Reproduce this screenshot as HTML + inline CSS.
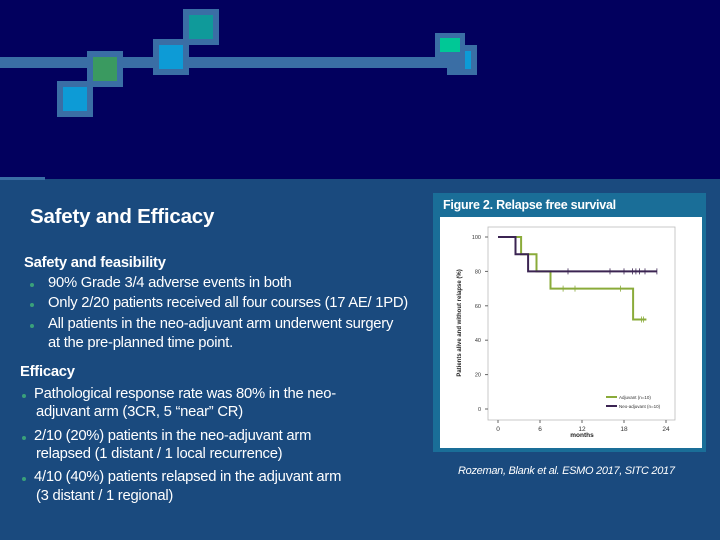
<!DOCTYPE html>
<html><head><meta charset="utf-8">
<style>
html,body{margin:0;padding:0}
body{width:720px;height:540px;position:relative;overflow:hidden;background:#1a4a7e;font-family:"Liberation Sans",sans-serif;color:#fff}
.top{position:absolute;left:0;top:0;width:720px;height:179px;background:#02005e}
.sq{position:absolute;box-sizing:border-box;border:6px solid #3a6ea5}
.t{position:absolute;white-space:nowrap;font-size:14.8px;letter-spacing:-0.25px}
.b{font-weight:bold}
.dot{position:absolute;width:4px;height:4px;border-radius:50%;background:#3aa07a}
</style></head><body>
<div class="top"></div>
<div style="position:absolute;left:0;top:57px;width:464px;height:11px;background:#3a6ea5"></div>
<div class="sq" style="left:57px;top:81px;width:36px;height:36px;background:#0d9bd6"></div>
<div class="sq" style="left:87px;top:51px;width:36px;height:36px;background:#3a9a60"></div>
<div class="sq" style="left:153px;top:39px;width:36px;height:36px;background:#0d9bd6"></div>
<div class="sq" style="left:183px;top:9px;width:36px;height:36px;background:#0f9a9a"></div>
<div class="sq" style="left:447px;top:45px;width:30px;height:30px;background:#3a6ea5"><div style="position:absolute;left:12px;top:0;width:6px;height:18px;background:#0d9bd6"></div></div>
<div class="sq" style="left:435px;top:33px;width:30px;height:24px;background:#00c896;border-width:5px"></div>
<div style="position:absolute;left:0;top:177px;width:45px;height:3px;background:#3a6ea5"></div>

<div class="t b" style="left:30px;top:205px;font-size:20.5px;letter-spacing:-0.2px">Safety and Efficacy</div>
<div class="t b" style="left:24px;top:255px">Safety and feasibility</div>
<div class="dot" style="left:30px;top:283px"></div><div class="t" style="left:48px;top:275px">90% Grade 3/4 adverse events in both</div>
<div class="dot" style="left:30px;top:303px"></div><div class="t" style="left:48px;top:295px">Only 2/20 patients received all four courses (17 AE/ 1PD)</div>
<div class="dot" style="left:30px;top:324px"></div><div class="t" style="left:48px;top:316px">All patients in the neo-adjuvant arm underwent surgery</div>
<div class="t" style="left:48px;top:335px">at the pre-planned time point.</div>
<div class="t b" style="left:20px;top:364px">Efficacy</div>
<div class="dot" style="left:22px;top:394px"></div><div class="t" style="left:34px;top:386px">Pathological response rate was 80% in the neo-</div>
<div class="t" style="left:36px;top:404px">adjuvant arm (3CR, 5 “near” CR)</div>
<div class="dot" style="left:22px;top:436px"></div><div class="t" style="left:34px;top:428px">2/10 (20%) patients in the neo-adjuvant arm</div>
<div class="t" style="left:36px;top:446px">relapsed (1 distant / 1 local recurrence)</div>
<div class="dot" style="left:22px;top:477px"></div><div class="t" style="left:34px;top:469px">4/10 (40%) patients relapsed in the adjuvant arm</div>
<div class="t" style="left:36px;top:488px">(3 distant / 1 regional)</div>

<div style="position:absolute;left:433px;top:193px;width:273px;height:259px;background:#1a6e98">
 <div style="position:absolute;left:7px;top:24px;width:262px;height:231px;background:#fff"></div>
 <div class="t b" style="left:10px;top:5px;font-size:12.5px">Figure 2. Relapse free survival</div>
</div>
<svg id="chart" width="720" height="540" style="position:absolute;left:0;top:0"></svg>
<div class="t" style="left:458px;top:465px;font-size:11px;letter-spacing:-0.3px;font-style:italic">Rozeman, Blank et al. ESMO 2017, SITC 2017</div>

<script>
const xTicks=[0,6,12,18,24];
const yTicks=[0,20,40,60,80,100];
const adjTimes=[0,3.3,5.5,7.5,19.3,21.2];
const adjValues=[100,90,80,70,52,52];
const adjCensor=[9.3,11,17.5,20.5,20.8];
const neoTimes=[0,2.5,4.3,22.7];
const neoValues=[100,90,80,80];
const neoCensor=[10,16,18,19.2,19.7,20.2,21,22.7];
const NS='http://www.w3.org/2000/svg';
const svg=document.getElementById('chart');
const X=t=>498+t*7;
const Y=v=>409-v*1.72;
function mk(tag,a){const e=document.createElementNS(NS,tag);for(const k in a)e.setAttribute(k,a[k]);svg.appendChild(e);return e;}
const box=mk('rect',{x:488,y:227,width:187,height:193,fill:'none',stroke:'#bbb','stroke-width':0.8});


xTicks.forEach(t=>{
 mk('line',{x1:X(t),x2:X(t),y1:420,y2:423,stroke:'#666'});
 const e=mk('text',{x:X(t),y:431,'font-size':6.5,'text-anchor':'middle',fill:'#333','font-family':'Liberation Sans'});e.textContent=t;
 
 
});
yTicks.forEach(v=>{
 mk('line',{x1:485,x2:488,y1:Y(v),y2:Y(v),stroke:'#666'});
 const e=mk('text',{x:481,y:Y(v)+2,'font-size':5.5,'text-anchor':'end',fill:'#333','font-family':'Liberation Sans'});e.textContent=v;
 
 
});
const xt=mk('text',{x:582,y:437,'font-size':6.5,'text-anchor':'middle',fill:'#222','font-family':'Liberation Sans','font-weight':'bold'});xt.textContent='months';


const yt=mk('text',{x:0,y:0,'font-size':6,'text-anchor':'middle',fill:'#222','font-family':'Liberation Sans','font-weight':'bold',transform:'translate(461,323) rotate(-90)'});yt.textContent='Patients alive and without relapse (%)';


function step(times,vals,end,color,censor,name){
 let d='M'+X(times[0])+','+Y(vals[0]);
 for(let i=1;i<times.length;i++){d+=' H'+X(times[i])+' V'+Y(vals[i]);}
 d+=' H'+X(end);
 const p=mk('path',{d:d,fill:'none',stroke:color,'stroke-width':2});
 
 
 censor.forEach(c=>{
  let v=vals[0];for(let i=0;i<times.length;i++){if(times[i]<=c)v=vals[i];}
  const m=mk('line',{x1:X(c),x2:X(c),y1:Y(v)-3,y2:Y(v)+3,stroke:color,'stroke-width':0.8});
  
  
 });
}
step(adjTimes,adjValues,21.2,'#8aab3a',adjCensor,'adjuvant-line');
step(neoTimes,neoValues,22.7,'#3b2452',neoCensor,'neoadjuvant-line');
const lg=[['#8aab3a','Adjuvant (n=10)',397],['#3b2452','Neo-adjuvant (n=10)',406]];
lg.forEach(l=>{
 const ln=mk('line',{x1:606,x2:617,y1:l[2],y2:l[2],stroke:l[0],'stroke-width':2});
 
 
 const tx=mk('text',{x:619,y:l[2]+2,'font-size':4.5,fill:'#333','font-family':'Liberation Sans'});tx.textContent=l[1];
 
 
});
</script>
</body></html>
